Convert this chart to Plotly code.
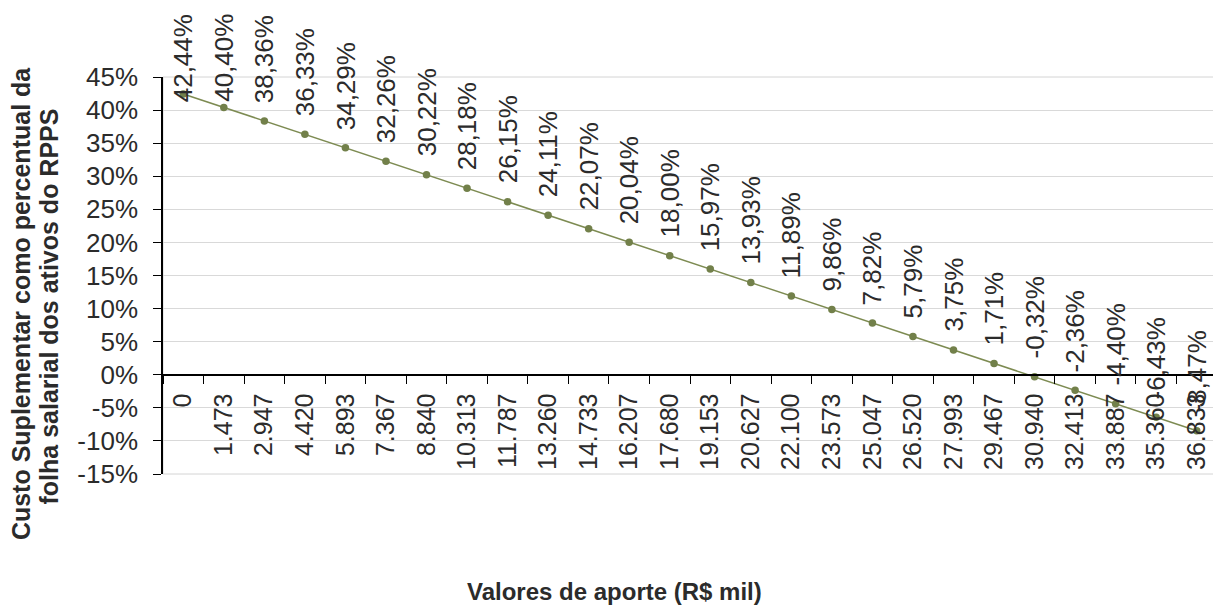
import plotly.graph_objects as go

# valores de aporte (R$ mil) - categorias do eixo x
aportes = ["0", "1.473", "2.947", "4.420", "5.893", "7.367", "8.840", "10.313",
           "11.787", "13.260", "14.733", "16.207", "17.680", "19.153", "20.627",
           "22.100", "23.573", "25.047", "26.520", "27.993", "29.467", "30.940",
           "32.413", "33.887", "35.360", "36.833"]
# custo suplementar (% da folha)
custo = [42.44, 40.40, 38.36, 36.33, 34.29, 32.26, 30.22, 28.18, 26.15, 24.11,
         22.07, 20.04, 18.00, 15.97, 13.93, 11.89, 9.86, 7.82, 5.79, 3.75,
         1.71, -0.32, -2.36, -4.40, -6.43, -8.47]
y_ticks = [-15, -10, -5, 0, 5, 10, 15, 20, 25, 30, 35, 40, 45]
y_ticktext = [f"{v}%" for v in y_ticks]

FONT = "Arial, Liberation Sans, sans-serif"
TXT = "#2b2b2b"
LBL_SIZE = 26
TOP_M, PLOT_H, Y_MIN, Y_MAX = 69, 397, -15, 45
GAP = 16


def _largura(txt, size):
    # largura aproximada do texto em Arial
    w = {",": .278, "%": .889, "-": .333}
    return sum(w.get(c, .556) for c in txt) * size


fig = go.Figure()
fig.add_scatter(x=aportes, y=custo, mode="lines+markers",
                line=dict(color="#7d8b52", width=1.5),
                marker=dict(color="#72804a", size=7.5),
                showlegend=False)

# rótulos de dados verticais (x pelo índice da categoria)
px_por_pct = PLOT_H / (Y_MAX - Y_MIN)
for i, v in enumerate(custo):
    txt = f"{v:.2f}".replace(".", ",") + "%"
    base = TOP_M + (Y_MAX - v) * px_por_pct - GAP
    fonte = dict(family=FONT, size=LBL_SIZE, color=TXT)
    if base - _largura(txt, LBL_SIZE) < 4:
        # não deixa o rótulo sair pelo topo do gráfico
        fig.add_annotation(x=i, yref="paper", y=1 + (TOP_M - 4) / PLOT_H,
                           text=txt, textangle=-90, showarrow=False,
                           yanchor="top", xanchor="center", font=fonte)
    else:
        fig.add_annotation(x=i, y=v, text=txt, textangle=-90, showarrow=False,
                           yanchor="bottom", xanchor="center", yshift=GAP,
                           font=fonte)

# título (cortado no topo, como no original)
fig.add_annotation(xref="paper", yref="paper", x=0.4146, y=1.1814,
                   text="<b>Simulação do Custo Suplementar em função do aporte</b>",
                   showarrow=False, xanchor="center", yanchor="bottom",
                   font=dict(family=FONT, size=28, color="#111111"))
# títulos dos eixos
fig.add_annotation(xref="paper", yref="paper", x=-0.1347, y=0.428,
                   text="<b>Custo Suplementar como percentual da</b>",
                   textangle=-90, showarrow=False, xanchor="center", yanchor="middle",
                   font=dict(family=FONT, size=25, color=TXT))
fig.add_annotation(xref="paper", yref="paper", x=-0.1086, y=0.4207,
                   text="<b>folha salarial dos ativos do RPPS</b>",
                   textangle=-90, showarrow=False, xanchor="center", yanchor="middle",
                   font=dict(family=FONT, size=25, color=TXT))
fig.add_annotation(xref="paper", yref="paper", x=0.4288, y=-0.297,
                   text="<b>Valores de aporte (R$ mil)</b>",
                   showarrow=False, xanchor="center", yanchor="middle",
                   font=dict(family=FONT, size=24, color=TXT))

fig.add_shape(type="rect", xref="paper", yref="paper", x0=0, x1=1, y0=0, y1=1,
              line=dict(color="#d4d4d4", width=1), layer="below")

fig.update_layout(
    width=1213, height=605,
    paper_bgcolor="white", plot_bgcolor="white",
    margin=dict(l=155, r=4, t=TOP_M, b=139),
    font=dict(family=FONT, size=25, color=TXT),
    xaxis=dict(type="category", range=[-0.5, 25.5], anchor="free", position=0.25,
               showline=True, linecolor="black", linewidth=1.5, automargin=False,
               ticks="outside", ticklen=8, tickcolor="black", tickson="boundaries",
               tickangle=-90, showgrid=False, ticklabelstandoff=8,
               tickfont=dict(family=FONT, size=25, color=TXT)),
    yaxis=dict(range=[Y_MIN, Y_MAX], tickvals=y_ticks, ticktext=y_ticktext,
               showline=True, linecolor="black", linewidth=1.5, automargin=False,
               ticks="outside", ticklen=8, tickcolor="black",
               showgrid=True, gridcolor="#d9d9d9", gridwidth=1, zeroline=False,
               ticklabelstandoff=10,
               tickfont=dict(family=FONT, size=26, color=TXT)),
)

fig.write_html("out.html")
